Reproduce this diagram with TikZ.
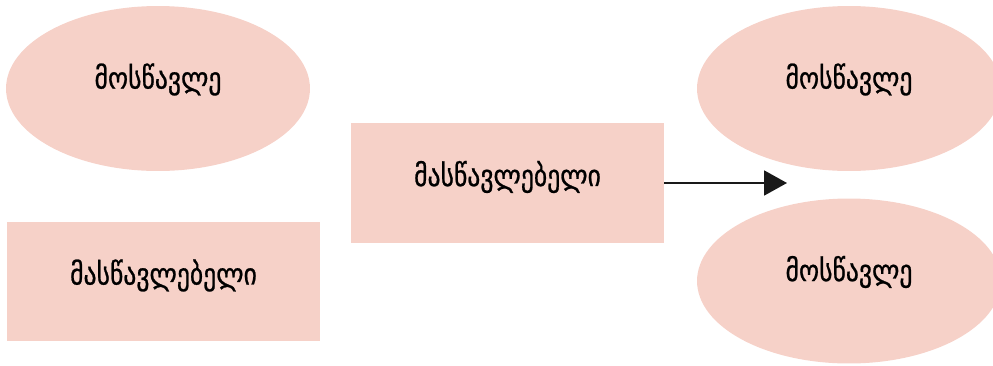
\documentclass[tikz,border=0pt]{standalone}
\usepackage{fontspec}
\setmainfont{DejaVu Sans}[FakeStretch = 0.86, FakeBold = 0.8]
\usetikzlibrary{shapes.geometric,arrows.meta}
\definecolor{salmon}{RGB}{246,209,200}
\begin{document}
\begin{tikzpicture}[x = 0.02cm, y = -0.02cm,
        oval/.style = {ellipse, fill = salmon, minimum width = 6.08cm, minimum height = 3.3cm, text height = 0.3cm, text depth = 0.3cm, font = \fontsize{17}{20}\selectfont},
        box/.style = {rectangle, fill = salmon, minimum width = 6.26cm, minimum height = 2.4cm, text height = 0.36cm, text depth = 0.24cm, font = \fontsize{17}{20}\selectfont}]
                \useasboundingbox (0,0) rectangle (993,365);
                \node[oval] (s1) at (158,88.5) {მოსწავლე};
                \node[box] (t1) at (163.5,281.5) {მასწავლებელი};
                \node[box] (t2) at (507.5,183) {მასწავლებელი};
                \node[oval] (s2) at (849,88.5) {მოსწავლე};
                \node[oval] (s3) at (849,281) {მოსწავლე};
                \coordinate (tip) at (787,183);
                \draw[black!90, line width = 1.1pt, -{Triangle[length = 0.46cm, width = 0.5cm]}] (t2.east) -- (tip);
            \end{tikzpicture}
\end{document}
